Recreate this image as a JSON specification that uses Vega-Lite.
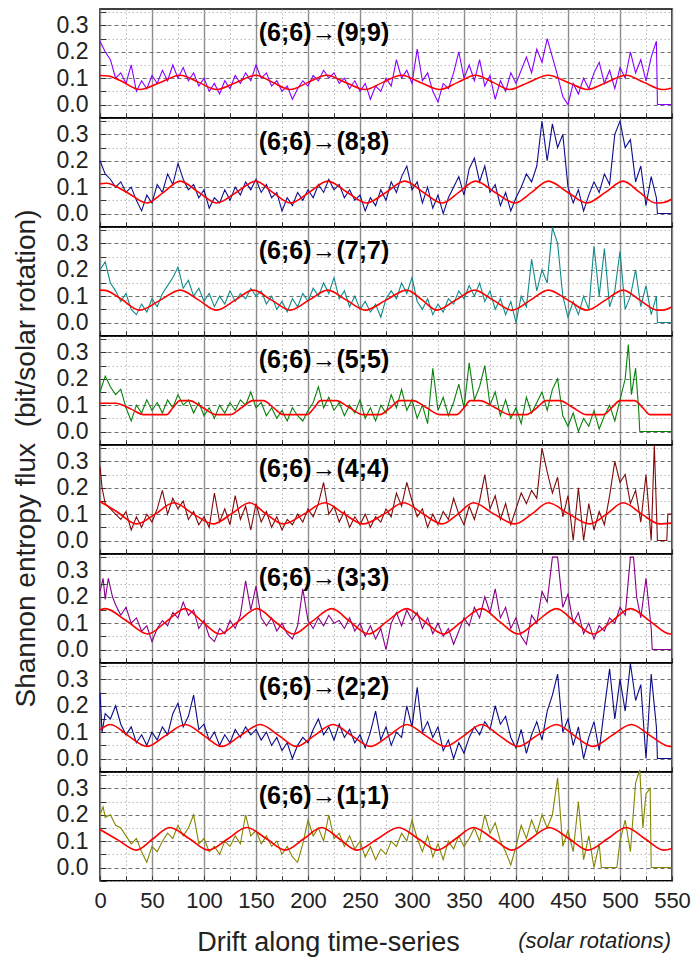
{
"$schema":"https://vega.github.io/schema/vega-lite/v6.json",
"background":"white",
"padding":{"left":11,"top":0,"right":2,"bottom":2},
"bounds":"flush",
"spacing":0,
"config":{"view":{"stroke":"#000","strokeWidth":1.5},"font":"Liberation Sans",
"axis":{"labelFont":"Liberation Sans","labelColor":"#222","tickColor":"#333","domain":false,"grid":true,"titleFont":"Liberation Sans","titleColor":"#222","titleFontWeight":"normal","labelOverlap":false},
"axisX":{"labelFontSize":22,"labelFlush":false,"labelPadding":15,"tickSize":-5},
"axisY":{"labelFontSize":23,"labelPadding":18,"tickSize":-6},
"title":{"font":"Liberation Sans","fontSize":25,"fontWeight":"bold","color":"#000","offset":-45,"anchor":"middle","frame":"group","dx":-62}},
"title":{"text":"(solar rotations)","orient":"bottom","anchor":"end","frame":"bounds","fontStyle":"italic","fontWeight":"normal","fontSize":22,"color":"#222","offset":-16,"dx":-20,"baseline":"middle"},
"data":{"values":[
{"s":1,"x":0,"y":0.24},{"s":1,"x":5,"y":0.2},{"s":1,"x":10,"y":0.17},{"s":1,"x":15,"y":0.1},{"s":1,"x":20,"y":0.12},{"s":1,"x":25,"y":0.08},{"s":1,"x":30,"y":0.15},{"s":1,"x":35,"y":0.05},{"s":1,"x":40,"y":0.09},{"s":1,"x":45,"y":0.06},{"s":1,"x":50,"y":0.11},{"s":1,"x":55,"y":0.08},{"s":1,"x":60,"y":0.13},{"s":1,"x":65,"y":0.09},{"s":1,"x":70,"y":0.15},{"s":1,"x":75,"y":0.1},{"s":1,"x":80,"y":0.14},{"s":1,"x":85,"y":0.09},{"s":1,"x":90,"y":0.12},{"s":1,"x":95,"y":0.07},{"s":1,"x":100,"y":0.1},{"s":1,"x":105,"y":0.05},{"s":1,"x":110,"y":0.08},{"s":1,"x":115,"y":0.04},{"s":1,"x":120,"y":0.09},{"s":1,"x":125,"y":0.06},{"s":1,"x":130,"y":0.11},{"s":1,"x":135,"y":0.08},{"s":1,"x":140,"y":0.12},{"s":1,"x":145,"y":0.09},{"s":1,"x":150,"y":0.15},{"s":1,"x":155,"y":0.1},{"s":1,"x":160,"y":0.12},{"s":1,"x":165,"y":0.07},{"s":1,"x":170,"y":0.09},{"s":1,"x":175,"y":0.05},{"s":1,"x":180,"y":0.07},{"s":1,"x":185,"y":0.02},{"s":1,"x":190,"y":0.06},{"s":1,"x":195,"y":0.09},{"s":1,"x":200,"y":0.07},{"s":1,"x":205,"y":0.11},{"s":1,"x":210,"y":0.09},{"s":1,"x":215,"y":0.13},{"s":1,"x":220,"y":0.1},{"s":1,"x":225,"y":0.12},{"s":1,"x":230,"y":0.08},{"s":1,"x":235,"y":0.1},{"s":1,"x":240,"y":0.06},{"s":1,"x":245,"y":0.09},{"s":1,"x":250,"y":0.05},{"s":1,"x":255,"y":0.08},{"s":1,"x":260,"y":0.02},{"s":1,"x":265,"y":0.07},{"s":1,"x":270,"y":0.05},{"s":1,"x":275,"y":0.1},{"s":1,"x":280,"y":0.07},{"s":1,"x":285,"y":0.17},{"s":1,"x":290,"y":0.1},{"s":1,"x":295,"y":0.13},{"s":1,"x":300,"y":0.08},{"s":1,"x":305,"y":0.21},{"s":1,"x":310,"y":0.09},{"s":1,"x":315,"y":0.12},{"s":1,"x":320,"y":0.05},{"s":1,"x":325,"y":0.01},{"s":1,"x":330,"y":0.08},{"s":1,"x":335,"y":0.06},{"s":1,"x":340,"y":0.12},{"s":1,"x":345,"y":0.2},{"s":1,"x":350,"y":0.1},{"s":1,"x":355,"y":0.15},{"s":1,"x":360,"y":0.09},{"s":1,"x":365,"y":0.17},{"s":1,"x":370,"y":0.07},{"s":1,"x":375,"y":0.11},{"s":1,"x":380,"y":0.02},{"s":1,"x":385,"y":0.09},{"s":1,"x":390,"y":0.05},{"s":1,"x":395,"y":0.12},{"s":1,"x":400,"y":0.08},{"s":1,"x":405,"y":0.13},{"s":1,"x":410,"y":0.18},{"s":1,"x":415,"y":0.12},{"s":1,"x":420,"y":0.21},{"s":1,"x":425,"y":0.16},{"s":1,"x":430,"y":0.25},{"s":1,"x":435,"y":0.18},{"s":1,"x":440,"y":0.11},{"s":1,"x":445,"y":0.03},{"s":1,"x":450,"y":0},{"s":1,"x":455,"y":0.08},{"s":1,"x":460,"y":0.04},{"s":1,"x":465,"y":0.1},{"s":1,"x":470,"y":0.06},{"s":1,"x":475,"y":0.12},{"s":1,"x":480,"y":0.16},{"s":1,"x":485,"y":0.08},{"s":1,"x":490,"y":0.13},{"s":1,"x":495,"y":0.06},{"s":1,"x":500,"y":0.14},{"s":1,"x":505,"y":0.1},{"s":1,"x":510,"y":0.2},{"s":1,"x":515,"y":0.12},{"s":1,"x":520,"y":0.17},{"s":1,"x":525,"y":0.09},{"s":1,"x":530,"y":0.18},{"s":1,"x":535,"y":0.24},{"s":1,"x":536,"y":0},{"s":1,"x":550,"y":0},
{"s":2,"x":0,"y":0.2},{"s":2,"x":5,"y":0.15},{"s":2,"x":10,"y":0.13},{"s":2,"x":15,"y":0.1},{"s":2,"x":20,"y":0.12},{"s":2,"x":25,"y":0.08},{"s":2,"x":30,"y":0.1},{"s":2,"x":35,"y":0.05},{"s":2,"x":40,"y":0.01},{"s":2,"x":45,"y":0.07},{"s":2,"x":50,"y":0.04},{"s":2,"x":55,"y":0.11},{"s":2,"x":60,"y":0.08},{"s":2,"x":65,"y":0.15},{"s":2,"x":70,"y":0.11},{"s":2,"x":75,"y":0.19},{"s":2,"x":80,"y":0.13},{"s":2,"x":85,"y":0.09},{"s":2,"x":90,"y":0.11},{"s":2,"x":95,"y":0.06},{"s":2,"x":100,"y":0.09},{"s":2,"x":105,"y":0.02},{"s":2,"x":110,"y":0.06},{"s":2,"x":115,"y":0.04},{"s":2,"x":120,"y":0.09},{"s":2,"x":125,"y":0.05},{"s":2,"x":130,"y":0.1},{"s":2,"x":135,"y":0.07},{"s":2,"x":140,"y":0.12},{"s":2,"x":145,"y":0.09},{"s":2,"x":150,"y":0.13},{"s":2,"x":155,"y":0.08},{"s":2,"x":160,"y":0.11},{"s":2,"x":165,"y":0.06},{"s":2,"x":170,"y":0.08},{"s":2,"x":175,"y":0.01},{"s":2,"x":180,"y":0.06},{"s":2,"x":185,"y":0.03},{"s":2,"x":190,"y":0.08},{"s":2,"x":195,"y":0.05},{"s":2,"x":200,"y":0.09},{"s":2,"x":205,"y":0.06},{"s":2,"x":210,"y":0.11},{"s":2,"x":215,"y":0.08},{"s":2,"x":220,"y":0.13},{"s":2,"x":225,"y":0.09},{"s":2,"x":230,"y":0.11},{"s":2,"x":235,"y":0.06},{"s":2,"x":240,"y":0.09},{"s":2,"x":245,"y":0.05},{"s":2,"x":250,"y":0.07},{"s":2,"x":255,"y":0.01},{"s":2,"x":260,"y":0.06},{"s":2,"x":265,"y":0.03},{"s":2,"x":270,"y":0.09},{"s":2,"x":275,"y":0.05},{"s":2,"x":280,"y":0.12},{"s":2,"x":285,"y":0.08},{"s":2,"x":290,"y":0.14},{"s":2,"x":295,"y":0.18},{"s":2,"x":300,"y":0.09},{"s":2,"x":305,"y":0.12},{"s":2,"x":310,"y":0.04},{"s":2,"x":315,"y":0.1},{"s":2,"x":320,"y":0.02},{"s":2,"x":325,"y":0.07},{"s":2,"x":330,"y":0},{"s":2,"x":335,"y":0.06},{"s":2,"x":340,"y":0.1},{"s":2,"x":345,"y":0.14},{"s":2,"x":350,"y":0.07},{"s":2,"x":355,"y":0.17},{"s":2,"x":360,"y":0.21},{"s":2,"x":365,"y":0.12},{"s":2,"x":370,"y":0.18},{"s":2,"x":375,"y":0.08},{"s":2,"x":380,"y":0.11},{"s":2,"x":385,"y":0.03},{"s":2,"x":390,"y":0.08},{"s":2,"x":395,"y":0.01},{"s":2,"x":400,"y":0.06},{"s":2,"x":405,"y":0.1},{"s":2,"x":410,"y":0.15},{"s":2,"x":415,"y":0.12},{"s":2,"x":420,"y":0.18},{"s":2,"x":425,"y":0.35},{"s":2,"x":430,"y":0.2},{"s":2,"x":435,"y":0.34},{"s":2,"x":440,"y":0.25},{"s":2,"x":445,"y":0.3},{"s":2,"x":450,"y":0.1},{"s":2,"x":455,"y":0.04},{"s":2,"x":460,"y":0.09},{"s":2,"x":465,"y":0.01},{"s":2,"x":470,"y":0.07},{"s":2,"x":475,"y":0.12},{"s":2,"x":480,"y":0.08},{"s":2,"x":485,"y":0.15},{"s":2,"x":490,"y":0.11},{"s":2,"x":495,"y":0.3},{"s":2,"x":500,"y":0.35},{"s":2,"x":505,"y":0.25},{"s":2,"x":510,"y":0.28},{"s":2,"x":515,"y":0.12},{"s":2,"x":520,"y":0.18},{"s":2,"x":525,"y":0.03},{"s":2,"x":530,"y":0.14},{"s":2,"x":535,"y":0.06},{"s":2,"x":536,"y":0},{"s":2,"x":550,"y":0},
{"s":3,"x":0,"y":0.2},{"s":3,"x":5,"y":0.23},{"s":3,"x":10,"y":0.15},{"s":3,"x":15,"y":0.12},{"s":3,"x":20,"y":0.08},{"s":3,"x":25,"y":0.11},{"s":3,"x":30,"y":0.05},{"s":3,"x":35,"y":0.03},{"s":3,"x":40,"y":0.07},{"s":3,"x":45,"y":0.04},{"s":3,"x":50,"y":0.09},{"s":3,"x":55,"y":0.06},{"s":3,"x":60,"y":0.11},{"s":3,"x":65,"y":0.14},{"s":3,"x":70,"y":0.17},{"s":3,"x":75,"y":0.21},{"s":3,"x":80,"y":0.13},{"s":3,"x":85,"y":0.16},{"s":3,"x":90,"y":0.1},{"s":3,"x":95,"y":0.13},{"s":3,"x":100,"y":0.08},{"s":3,"x":105,"y":0.11},{"s":3,"x":110,"y":0.06},{"s":3,"x":115,"y":0.1},{"s":3,"x":120,"y":0.07},{"s":3,"x":125,"y":0.12},{"s":3,"x":130,"y":0.08},{"s":3,"x":135,"y":0.11},{"s":3,"x":140,"y":0.09},{"s":3,"x":145,"y":0.13},{"s":3,"x":150,"y":0.1},{"s":3,"x":155,"y":0.12},{"s":3,"x":160,"y":0.07},{"s":3,"x":165,"y":0.1},{"s":3,"x":170,"y":0.05},{"s":3,"x":175,"y":0.08},{"s":3,"x":180,"y":0.04},{"s":3,"x":185,"y":0.09},{"s":3,"x":190,"y":0.06},{"s":3,"x":195,"y":0.11},{"s":3,"x":200,"y":0.08},{"s":3,"x":205,"y":0.13},{"s":3,"x":210,"y":0.1},{"s":3,"x":215,"y":0.15},{"s":3,"x":220,"y":0.11},{"s":3,"x":225,"y":0.17},{"s":3,"x":230,"y":0.09},{"s":3,"x":235,"y":0.12},{"s":3,"x":240,"y":0.06},{"s":3,"x":245,"y":0.1},{"s":3,"x":250,"y":0.05},{"s":3,"x":255,"y":0.08},{"s":3,"x":260,"y":0.04},{"s":3,"x":265,"y":0.07},{"s":3,"x":270,"y":0.02},{"s":3,"x":275,"y":0.09},{"s":3,"x":280,"y":0.12},{"s":3,"x":285,"y":0.09},{"s":3,"x":290,"y":0.15},{"s":3,"x":295,"y":0.11},{"s":3,"x":300,"y":0.17},{"s":3,"x":305,"y":0.08},{"s":3,"x":310,"y":0.05},{"s":3,"x":315,"y":0.09},{"s":3,"x":320,"y":0.03},{"s":3,"x":325,"y":0.07},{"s":3,"x":330,"y":0.04},{"s":3,"x":335,"y":0.09},{"s":3,"x":340,"y":0.07},{"s":3,"x":345,"y":0.12},{"s":3,"x":350,"y":0.09},{"s":3,"x":355,"y":0.14},{"s":3,"x":360,"y":0.1},{"s":3,"x":365,"y":0.15},{"s":3,"x":370,"y":0.08},{"s":3,"x":375,"y":0.12},{"s":3,"x":380,"y":0.05},{"s":3,"x":385,"y":0.09},{"s":3,"x":390,"y":0.03},{"s":3,"x":395,"y":0.08},{"s":3,"x":400,"y":0},{"s":3,"x":405,"y":0.1},{"s":3,"x":410,"y":0.06},{"s":3,"x":415,"y":0.24},{"s":3,"x":420,"y":0.12},{"s":3,"x":425,"y":0.2},{"s":3,"x":430,"y":0.15},{"s":3,"x":435,"y":0.36},{"s":3,"x":440,"y":0.3},{"s":3,"x":445,"y":0.1},{"s":3,"x":450,"y":0.02},{"s":3,"x":455,"y":0.08},{"s":3,"x":460,"y":0.03},{"s":3,"x":465,"y":0.1},{"s":3,"x":470,"y":0.05},{"s":3,"x":475,"y":0.29},{"s":3,"x":480,"y":0.1},{"s":3,"x":485,"y":0.28},{"s":3,"x":490,"y":0.06},{"s":3,"x":495,"y":0.12},{"s":3,"x":500,"y":0.27},{"s":3,"x":505,"y":0.05},{"s":3,"x":510,"y":0.1},{"s":3,"x":515,"y":0.2},{"s":3,"x":520,"y":0.06},{"s":3,"x":525,"y":0.14},{"s":3,"x":530,"y":0.03},{"s":3,"x":535,"y":0.1},{"s":3,"x":536,"y":0},{"s":3,"x":550,"y":0},
{"s":4,"x":0,"y":0.15},{"s":4,"x":5,"y":0.21},{"s":4,"x":10,"y":0.17},{"s":4,"x":15,"y":0.14},{"s":4,"x":20,"y":0.16},{"s":4,"x":25,"y":0.09},{"s":4,"x":30,"y":0.04},{"s":4,"x":35,"y":0.1},{"s":4,"x":40,"y":0.07},{"s":4,"x":45,"y":0.12},{"s":4,"x":50,"y":0.08},{"s":4,"x":55,"y":0.11},{"s":4,"x":60,"y":0.07},{"s":4,"x":65,"y":0.12},{"s":4,"x":70,"y":0.09},{"s":4,"x":75,"y":0.14},{"s":4,"x":80,"y":0.1},{"s":4,"x":85,"y":0.12},{"s":4,"x":90,"y":0.07},{"s":4,"x":95,"y":0.11},{"s":4,"x":100,"y":0.06},{"s":4,"x":105,"y":0.09},{"s":4,"x":110,"y":0.05},{"s":4,"x":115,"y":0.1},{"s":4,"x":120,"y":0.07},{"s":4,"x":125,"y":0.11},{"s":4,"x":130,"y":0.08},{"s":4,"x":135,"y":0.12},{"s":4,"x":140,"y":0.1},{"s":4,"x":145,"y":0.15},{"s":4,"x":150,"y":0.09},{"s":4,"x":155,"y":0.11},{"s":4,"x":160,"y":0.06},{"s":4,"x":165,"y":0.09},{"s":4,"x":170,"y":0.05},{"s":4,"x":175,"y":0.08},{"s":4,"x":180,"y":0.04},{"s":4,"x":185,"y":0.09},{"s":4,"x":190,"y":0.06},{"s":4,"x":195,"y":0.04},{"s":4,"x":200,"y":0.08},{"s":4,"x":205,"y":0.11},{"s":4,"x":210,"y":0.17},{"s":4,"x":215,"y":0.09},{"s":4,"x":220,"y":0.13},{"s":4,"x":225,"y":0.08},{"s":4,"x":230,"y":0.11},{"s":4,"x":235,"y":0.06},{"s":4,"x":240,"y":0.1},{"s":4,"x":245,"y":0.07},{"s":4,"x":250,"y":0.12},{"s":4,"x":255,"y":0.05},{"s":4,"x":260,"y":0.09},{"s":4,"x":265,"y":0.04},{"s":4,"x":270,"y":0.1},{"s":4,"x":275,"y":0.07},{"s":4,"x":280,"y":0.14},{"s":4,"x":285,"y":0.09},{"s":4,"x":290,"y":0.16},{"s":4,"x":295,"y":0.08},{"s":4,"x":300,"y":0.12},{"s":4,"x":305,"y":0.05},{"s":4,"x":310,"y":0.1},{"s":4,"x":315,"y":0.03},{"s":4,"x":320,"y":0.24},{"s":4,"x":325,"y":0.08},{"s":4,"x":330,"y":0.13},{"s":4,"x":335,"y":0.06},{"s":4,"x":340,"y":0.11},{"s":4,"x":345,"y":0.18},{"s":4,"x":350,"y":0.09},{"s":4,"x":355,"y":0.26},{"s":4,"x":360,"y":0.12},{"s":4,"x":365,"y":0.17},{"s":4,"x":370,"y":0.25},{"s":4,"x":375,"y":0.1},{"s":4,"x":380,"y":0.15},{"s":4,"x":385,"y":0.06},{"s":4,"x":390,"y":0.12},{"s":4,"x":395,"y":0.05},{"s":4,"x":400,"y":0.09},{"s":4,"x":405,"y":0.03},{"s":4,"x":410,"y":0.13},{"s":4,"x":415,"y":0.07},{"s":4,"x":420,"y":0.11},{"s":4,"x":425,"y":0.15},{"s":4,"x":430,"y":0.08},{"s":4,"x":435,"y":0.16},{"s":4,"x":440,"y":0.2},{"s":4,"x":445,"y":0.06},{"s":4,"x":450,"y":0.02},{"s":4,"x":455,"y":0.07},{"s":4,"x":460,"y":0},{"s":4,"x":465,"y":0.05},{"s":4,"x":470,"y":0.02},{"s":4,"x":475,"y":0.08},{"s":4,"x":480,"y":0.01},{"s":4,"x":485,"y":0.06},{"s":4,"x":490,"y":0.1},{"s":4,"x":495,"y":0.04},{"s":4,"x":500,"y":0.12},{"s":4,"x":505,"y":0.2},{"s":4,"x":508,"y":0.33},{"s":4,"x":511,"y":0.14},{"s":4,"x":515,"y":0.24},{"s":4,"x":518,"y":0.08},{"s":4,"x":519,"y":0},{"s":4,"x":550,"y":0},
{"s":5,"x":0,"y":0.28},{"s":5,"x":2,"y":0.2},{"s":5,"x":5,"y":0.14},{"s":5,"x":10,"y":0.12},{"s":5,"x":15,"y":0.1},{"s":5,"x":20,"y":0.08},{"s":5,"x":25,"y":0.11},{"s":5,"x":30,"y":0.04},{"s":5,"x":35,"y":0.09},{"s":5,"x":40,"y":0.05},{"s":5,"x":45,"y":0.1},{"s":5,"x":50,"y":0.07},{"s":5,"x":55,"y":0.12},{"s":5,"x":60,"y":0.19},{"s":5,"x":65,"y":0.1},{"s":5,"x":70,"y":0.16},{"s":5,"x":75,"y":0.12},{"s":5,"x":80,"y":0.15},{"s":5,"x":85,"y":0.08},{"s":5,"x":90,"y":0.11},{"s":5,"x":95,"y":0.06},{"s":5,"x":100,"y":0.09},{"s":5,"x":105,"y":0.05},{"s":5,"x":110,"y":0.18},{"s":5,"x":115,"y":0.07},{"s":5,"x":120,"y":0.12},{"s":5,"x":125,"y":0.06},{"s":5,"x":130,"y":0.17},{"s":5,"x":135,"y":0.08},{"s":5,"x":140,"y":0.13},{"s":5,"x":145,"y":0.04},{"s":5,"x":150,"y":0.14},{"s":5,"x":155,"y":0.07},{"s":5,"x":160,"y":0.11},{"s":5,"x":165,"y":0.05},{"s":5,"x":170,"y":0.09},{"s":5,"x":175,"y":0.04},{"s":5,"x":180,"y":0.08},{"s":5,"x":185,"y":0.06},{"s":5,"x":190,"y":0.1},{"s":5,"x":195,"y":0.07},{"s":5,"x":200,"y":0.12},{"s":5,"x":205,"y":0.09},{"s":5,"x":210,"y":0.14},{"s":5,"x":215,"y":0.22},{"s":5,"x":220,"y":0.1},{"s":5,"x":225,"y":0.13},{"s":5,"x":230,"y":0.07},{"s":5,"x":235,"y":0.11},{"s":5,"x":240,"y":0.05},{"s":5,"x":245,"y":0.09},{"s":5,"x":250,"y":0.06},{"s":5,"x":255,"y":0.1},{"s":5,"x":260,"y":0.05},{"s":5,"x":265,"y":0.09},{"s":5,"x":270,"y":0.07},{"s":5,"x":275,"y":0.12},{"s":5,"x":280,"y":0.09},{"s":5,"x":285,"y":0.18},{"s":5,"x":290,"y":0.13},{"s":5,"x":295,"y":0.22},{"s":5,"x":300,"y":0.15},{"s":5,"x":305,"y":0.09},{"s":5,"x":310,"y":0.12},{"s":5,"x":315,"y":0.05},{"s":5,"x":320,"y":0.1},{"s":5,"x":325,"y":0.06},{"s":5,"x":330,"y":0.11},{"s":5,"x":335,"y":0.08},{"s":5,"x":340,"y":0.16},{"s":5,"x":345,"y":0.1},{"s":5,"x":350,"y":0.06},{"s":5,"x":355,"y":0.13},{"s":5,"x":360,"y":0.08},{"s":5,"x":365,"y":0.15},{"s":5,"x":370,"y":0.25},{"s":5,"x":375,"y":0.12},{"s":5,"x":380,"y":0.17},{"s":5,"x":385,"y":0.08},{"s":5,"x":390,"y":0.14},{"s":5,"x":395,"y":0.06},{"s":5,"x":400,"y":0.12},{"s":5,"x":405,"y":0.18},{"s":5,"x":410,"y":0.14},{"s":5,"x":415,"y":0.19},{"s":5,"x":420,"y":0.16},{"s":5,"x":425,"y":0.35},{"s":5,"x":430,"y":0.26},{"s":5,"x":435,"y":0.18},{"s":5,"x":440,"y":0.24},{"s":5,"x":445,"y":0.09},{"s":5,"x":450,"y":0.17},{"s":5,"x":455,"y":0},{"s":5,"x":460,"y":0.2},{"s":5,"x":465,"y":0},{"s":5,"x":470,"y":0.14},{"s":5,"x":475,"y":0.04},{"s":5,"x":480,"y":0.11},{"s":5,"x":485,"y":0.06},{"s":5,"x":490,"y":0.17},{"s":5,"x":495,"y":0.3},{"s":5,"x":500,"y":0.22},{"s":5,"x":505,"y":0.25},{"s":5,"x":510,"y":0.14},{"s":5,"x":515,"y":0.19},{"s":5,"x":520,"y":0.07},{"s":5,"x":525,"y":0.25},{"s":5,"x":530,"y":0},{"s":5,"x":533,"y":0.36},{"s":5,"x":536,"y":0},{"s":5,"x":545,"y":0},{"s":5,"x":546,"y":0.1},{"s":5,"x":550,"y":0.1},
{"s":6,"x":0,"y":0.22},{"s":6,"x":3,"y":0.27},{"s":6,"x":5,"y":0.19},{"s":6,"x":8,"y":0.27},{"s":6,"x":12,"y":0.2},{"s":6,"x":15,"y":0.17},{"s":6,"x":20,"y":0.13},{"s":6,"x":25,"y":0.16},{"s":6,"x":30,"y":0.1},{"s":6,"x":35,"y":0.12},{"s":6,"x":40,"y":0.07},{"s":6,"x":45,"y":0.09},{"s":6,"x":50,"y":0.03},{"s":6,"x":55,"y":0.08},{"s":6,"x":60,"y":0.11},{"s":6,"x":65,"y":0.09},{"s":6,"x":70,"y":0.14},{"s":6,"x":75,"y":0.12},{"s":6,"x":80,"y":0.18},{"s":6,"x":85,"y":0.13},{"s":6,"x":90,"y":0.15},{"s":6,"x":95,"y":0.08},{"s":6,"x":100,"y":0.11},{"s":6,"x":105,"y":0.05},{"s":6,"x":110,"y":0.03},{"s":6,"x":115,"y":0.08},{"s":6,"x":120,"y":0.06},{"s":6,"x":125,"y":0.11},{"s":6,"x":130,"y":0.08},{"s":6,"x":135,"y":0.13},{"s":6,"x":140,"y":0.26},{"s":6,"x":145,"y":0.15},{"s":6,"x":150,"y":0.24},{"s":6,"x":155,"y":0.12},{"s":6,"x":160,"y":0.09},{"s":6,"x":165,"y":0.12},{"s":6,"x":170,"y":0.07},{"s":6,"x":175,"y":0.1},{"s":6,"x":180,"y":0.06},{"s":6,"x":185,"y":0.04},{"s":6,"x":190,"y":0.09},{"s":6,"x":195,"y":0.23},{"s":6,"x":200,"y":0.11},{"s":6,"x":205,"y":0.08},{"s":6,"x":210,"y":0.12},{"s":6,"x":215,"y":0.09},{"s":6,"x":220,"y":0.13},{"s":6,"x":225,"y":0.1},{"s":6,"x":230,"y":0.11},{"s":6,"x":235,"y":0.08},{"s":6,"x":240,"y":0.12},{"s":6,"x":245,"y":0.07},{"s":6,"x":250,"y":0.1},{"s":6,"x":255,"y":0.05},{"s":6,"x":260,"y":0.09},{"s":6,"x":265,"y":0.04},{"s":6,"x":270,"y":0.08},{"s":6,"x":275,"y":0},{"s":6,"x":280,"y":0.1},{"s":6,"x":285,"y":0.14},{"s":6,"x":290,"y":0.09},{"s":6,"x":295,"y":0.15},{"s":6,"x":300,"y":0.11},{"s":6,"x":305,"y":0.14},{"s":6,"x":310,"y":0.08},{"s":6,"x":315,"y":0.12},{"s":6,"x":320,"y":0.06},{"s":6,"x":325,"y":0.1},{"s":6,"x":330,"y":0.05},{"s":6,"x":335,"y":0.08},{"s":6,"x":340,"y":0.02},{"s":6,"x":345,"y":0.07},{"s":6,"x":350,"y":0.12},{"s":6,"x":355,"y":0.09},{"s":6,"x":360,"y":0.16},{"s":6,"x":365,"y":0.12},{"s":6,"x":370,"y":0.2},{"s":6,"x":375,"y":0.14},{"s":6,"x":380,"y":0.23},{"s":6,"x":385,"y":0.12},{"s":6,"x":390,"y":0.16},{"s":6,"x":395,"y":0.08},{"s":6,"x":400,"y":0.12},{"s":6,"x":405,"y":0.05},{"s":6,"x":410,"y":0.02},{"s":6,"x":415,"y":0.13},{"s":6,"x":420,"y":0.1},{"s":6,"x":425,"y":0.22},{"s":6,"x":430,"y":0.18},{"s":6,"x":435,"y":0.35},{"s":6,"x":440,"y":0.35},{"s":6,"x":445,"y":0.16},{"s":6,"x":450,"y":0.21},{"s":6,"x":455,"y":0.1},{"s":6,"x":460,"y":0.14},{"s":6,"x":465,"y":0.06},{"s":6,"x":470,"y":0.1},{"s":6,"x":475,"y":0.04},{"s":6,"x":480,"y":0.09},{"s":6,"x":485,"y":0.07},{"s":6,"x":490,"y":0.12},{"s":6,"x":495,"y":0.1},{"s":6,"x":500,"y":0.16},{"s":6,"x":505,"y":0.13},{"s":6,"x":510,"y":0.35},{"s":6,"x":513,"y":0.35},{"s":6,"x":516,"y":0.2},{"s":6,"x":520,"y":0.12},{"s":6,"x":525,"y":0.27},{"s":6,"x":530,"y":0.08},{"s":6,"x":531,"y":0},{"s":6,"x":550,"y":0},
{"s":7,"x":0,"y":0.25},{"s":7,"x":2,"y":0.1},{"s":7,"x":5,"y":0.17},{"s":7,"x":10,"y":0.15},{"s":7,"x":15,"y":0.2},{"s":7,"x":20,"y":0.13},{"s":7,"x":25,"y":0.09},{"s":7,"x":30,"y":0.12},{"s":7,"x":35,"y":0.06},{"s":7,"x":40,"y":0.09},{"s":7,"x":45,"y":0.05},{"s":7,"x":50,"y":0.1},{"s":7,"x":55,"y":0.07},{"s":7,"x":60,"y":0.12},{"s":7,"x":65,"y":0.09},{"s":7,"x":70,"y":0.17},{"s":7,"x":75,"y":0.21},{"s":7,"x":80,"y":0.12},{"s":7,"x":85,"y":0.16},{"s":7,"x":90,"y":0.24},{"s":7,"x":95,"y":0.11},{"s":7,"x":100,"y":0.13},{"s":7,"x":105,"y":0.07},{"s":7,"x":110,"y":0.1},{"s":7,"x":115,"y":0.05},{"s":7,"x":120,"y":0.09},{"s":7,"x":125,"y":0.06},{"s":7,"x":130,"y":0.11},{"s":7,"x":135,"y":0.08},{"s":7,"x":140,"y":0.12},{"s":7,"x":145,"y":0.09},{"s":7,"x":150,"y":0.11},{"s":7,"x":155,"y":0.07},{"s":7,"x":160,"y":0.1},{"s":7,"x":165,"y":0.05},{"s":7,"x":170,"y":0.08},{"s":7,"x":175,"y":0.03},{"s":7,"x":180,"y":0.06},{"s":7,"x":185,"y":0},{"s":7,"x":190,"y":0.05},{"s":7,"x":195,"y":0.08},{"s":7,"x":200,"y":0.06},{"s":7,"x":205,"y":0.11},{"s":7,"x":210,"y":0.15},{"s":7,"x":215,"y":0.09},{"s":7,"x":220,"y":0.12},{"s":7,"x":225,"y":0.07},{"s":7,"x":230,"y":0.13},{"s":7,"x":235,"y":0.08},{"s":7,"x":240,"y":0.11},{"s":7,"x":245,"y":0.06},{"s":7,"x":250,"y":0.09},{"s":7,"x":255,"y":0.04},{"s":7,"x":260,"y":0.1},{"s":7,"x":265,"y":0.18},{"s":7,"x":270,"y":0.07},{"s":7,"x":275,"y":0.12},{"s":7,"x":280,"y":0.05},{"s":7,"x":285,"y":0.1},{"s":7,"x":290,"y":0.08},{"s":7,"x":295,"y":0.2},{"s":7,"x":300,"y":0.12},{"s":7,"x":305,"y":0.27},{"s":7,"x":310,"y":0.1},{"s":7,"x":315,"y":0.14},{"s":7,"x":320,"y":0.08},{"s":7,"x":325,"y":0.12},{"s":7,"x":330,"y":0.03},{"s":7,"x":335,"y":0.07},{"s":7,"x":340,"y":0},{"s":7,"x":345,"y":0.06},{"s":7,"x":350,"y":0.02},{"s":7,"x":355,"y":0.08},{"s":7,"x":360,"y":0.12},{"s":7,"x":365,"y":0.09},{"s":7,"x":370,"y":0.14},{"s":7,"x":375,"y":0.11},{"s":7,"x":380,"y":0.2},{"s":7,"x":385,"y":0.13},{"s":7,"x":390,"y":0.16},{"s":7,"x":395,"y":0.08},{"s":7,"x":400,"y":0.04},{"s":7,"x":405,"y":0.11},{"s":7,"x":410,"y":0.02},{"s":7,"x":415,"y":0.09},{"s":7,"x":420,"y":0.14},{"s":7,"x":425,"y":0.07},{"s":7,"x":430,"y":0.18},{"s":7,"x":435,"y":0.24},{"s":7,"x":440,"y":0.32},{"s":7,"x":445,"y":0.1},{"s":7,"x":450,"y":0.15},{"s":7,"x":455,"y":0.05},{"s":7,"x":460,"y":0.12},{"s":7,"x":465,"y":0},{"s":7,"x":470,"y":0.08},{"s":7,"x":475,"y":0.14},{"s":7,"x":480,"y":0.03},{"s":7,"x":485,"y":0.19},{"s":7,"x":490,"y":0.34},{"s":7,"x":495,"y":0.15},{"s":7,"x":500,"y":0.3},{"s":7,"x":505,"y":0.18},{"s":7,"x":510,"y":0.36},{"s":7,"x":515,"y":0.22},{"s":7,"x":520,"y":0.28},{"s":7,"x":525,"y":0},{"s":7,"x":530,"y":0.32},{"s":7,"x":535,"y":0.12},{"s":7,"x":536,"y":0},{"s":7,"x":550,"y":0},
{"s":8,"x":0,"y":0.2},{"s":8,"x":3,"y":0.23},{"s":8,"x":5,"y":0.19},{"s":8,"x":10,"y":0.2},{"s":8,"x":15,"y":0.16},{"s":8,"x":20,"y":0.15},{"s":8,"x":25,"y":0.12},{"s":8,"x":30,"y":0.09},{"s":8,"x":35,"y":0.11},{"s":8,"x":40,"y":0.06},{"s":8,"x":45,"y":0.02},{"s":8,"x":50,"y":0.08},{"s":8,"x":55,"y":0.06},{"s":8,"x":60,"y":0.1},{"s":8,"x":65,"y":0.13},{"s":8,"x":70,"y":0.11},{"s":8,"x":75,"y":0.16},{"s":8,"x":80,"y":0.12},{"s":8,"x":85,"y":0.15},{"s":8,"x":90,"y":0.2},{"s":8,"x":95,"y":0.09},{"s":8,"x":100,"y":0.11},{"s":8,"x":105,"y":0.06},{"s":8,"x":110,"y":0.08},{"s":8,"x":115,"y":0.05},{"s":8,"x":120,"y":0.1},{"s":8,"x":125,"y":0.08},{"s":8,"x":130,"y":0.12},{"s":8,"x":135,"y":0.09},{"s":8,"x":140,"y":0.2},{"s":8,"x":145,"y":0.12},{"s":8,"x":150,"y":0.14},{"s":8,"x":155,"y":0.09},{"s":8,"x":160,"y":0.12},{"s":8,"x":165,"y":0.08},{"s":8,"x":170,"y":0.1},{"s":8,"x":175,"y":0.05},{"s":8,"x":180,"y":0.08},{"s":8,"x":185,"y":0.04},{"s":8,"x":190,"y":0.02},{"s":8,"x":195,"y":0.09},{"s":8,"x":200,"y":0.18},{"s":8,"x":205,"y":0.12},{"s":8,"x":210,"y":0.15},{"s":8,"x":215,"y":0.1},{"s":8,"x":220,"y":0.2},{"s":8,"x":225,"y":0.11},{"s":8,"x":230,"y":0.13},{"s":8,"x":235,"y":0.08},{"s":8,"x":240,"y":0.12},{"s":8,"x":245,"y":0.07},{"s":8,"x":250,"y":0.1},{"s":8,"x":255,"y":0.04},{"s":8,"x":260,"y":0.08},{"s":8,"x":265,"y":0.03},{"s":8,"x":270,"y":0.07},{"s":8,"x":275,"y":0.05},{"s":8,"x":280,"y":0.1},{"s":8,"x":285,"y":0.08},{"s":8,"x":290,"y":0.13},{"s":8,"x":295,"y":0.1},{"s":8,"x":300,"y":0.18},{"s":8,"x":305,"y":0.11},{"s":8,"x":310,"y":0.06},{"s":8,"x":315,"y":0.12},{"s":8,"x":320,"y":0.04},{"s":8,"x":325,"y":0.09},{"s":8,"x":330,"y":0.03},{"s":8,"x":335,"y":0.1},{"s":8,"x":340,"y":0.07},{"s":8,"x":345,"y":0.12},{"s":8,"x":350,"y":0.08},{"s":8,"x":355,"y":0.11},{"s":8,"x":360,"y":0.15},{"s":8,"x":365,"y":0.1},{"s":8,"x":370,"y":0.2},{"s":8,"x":375,"y":0.13},{"s":8,"x":380,"y":0.17},{"s":8,"x":385,"y":0.1},{"s":8,"x":390,"y":0.06},{"s":8,"x":395,"y":0.01},{"s":8,"x":400,"y":0.08},{"s":8,"x":405,"y":0.16},{"s":8,"x":410,"y":0.11},{"s":8,"x":415,"y":0.18},{"s":8,"x":420,"y":0.13},{"s":8,"x":425,"y":0.2},{"s":8,"x":430,"y":0.15},{"s":8,"x":435,"y":0.2},{"s":8,"x":440,"y":0.34},{"s":8,"x":445,"y":0.08},{"s":8,"x":450,"y":0.14},{"s":8,"x":455,"y":0.06},{"s":8,"x":460,"y":0.25},{"s":8,"x":465,"y":0.03},{"s":8,"x":470,"y":0.12},{"s":8,"x":475,"y":0},{"s":8,"x":480,"y":0.09},{"s":8,"x":482,"y":0},{"s":8,"x":497,"y":0},{"s":8,"x":500,"y":0.1},{"s":8,"x":505,"y":0.18},{"s":8,"x":510,"y":0.06},{"s":8,"x":515,"y":0.32},{"s":8,"x":519,"y":0.37},{"s":8,"x":522,"y":0.15},{"s":8,"x":525,"y":0.28},{"s":8,"x":529,"y":0.3},{"s":8,"x":530,"y":0},{"s":8,"x":550,"y":0},
{"s":1,"k":1,"x":0,"y":0.11},{"s":1,"k":1,"x":8,"y":0.108},{"s":1,"k":1,"x":20,"y":0.09},{"s":1,"k":1,"x":38,"y":0.057},{"s":1,"k":1,"x":58,"y":0.084},{"s":1,"k":1,"x":77,"y":0.111},{"s":1,"k":1,"x":95,"y":0.084},{"s":1,"k":1,"x":112,"y":0.057},{"s":1,"k":1,"x":131,"y":0.084},{"s":1,"k":1,"x":150,"y":0.111},{"s":1,"k":1,"x":166,"y":0.084},{"s":1,"k":1,"x":183,"y":0.057},{"s":1,"k":1,"x":200,"y":0.084},{"s":1,"k":1,"x":218,"y":0.111},{"s":1,"k":1,"x":236,"y":0.084},{"s":1,"k":1,"x":255,"y":0.057},{"s":1,"k":1,"x":272,"y":0.084},{"s":1,"k":1,"x":290,"y":0.111},{"s":1,"k":1,"x":308,"y":0.084},{"s":1,"k":1,"x":327,"y":0.057},{"s":1,"k":1,"x":344,"y":0.084},{"s":1,"k":1,"x":361,"y":0.111},{"s":1,"k":1,"x":378,"y":0.084},{"s":1,"k":1,"x":394,"y":0.057},{"s":1,"k":1,"x":412,"y":0.084},{"s":1,"k":1,"x":431,"y":0.111},{"s":1,"k":1,"x":450,"y":0.084},{"s":1,"k":1,"x":469,"y":0.057},{"s":1,"k":1,"x":487,"y":0.084},{"s":1,"k":1,"x":506,"y":0.111},{"s":1,"k":1,"x":523,"y":0.084},{"s":1,"k":1,"x":541,"y":0.057},{"s":1,"k":1,"x":550,"y":0.063},
{"s":2,"k":1,"x":0,"y":0.113},{"s":2,"k":1,"x":6,"y":0.115},{"s":2,"k":1,"x":26,"y":0.08},{"s":2,"k":1,"x":45,"y":0.04},{"s":2,"k":1,"x":61,"y":0.08},{"s":2,"k":1,"x":77,"y":0.123},{"s":2,"k":1,"x":95,"y":0.08},{"s":2,"k":1,"x":112,"y":0.04},{"s":2,"k":1,"x":131,"y":0.08},{"s":2,"k":1,"x":150,"y":0.123},{"s":2,"k":1,"x":166,"y":0.08},{"s":2,"k":1,"x":183,"y":0.04},{"s":2,"k":1,"x":201,"y":0.08},{"s":2,"k":1,"x":219,"y":0.123},{"s":2,"k":1,"x":238,"y":0.08},{"s":2,"k":1,"x":256,"y":0.04},{"s":2,"k":1,"x":275,"y":0.08},{"s":2,"k":1,"x":293,"y":0.123},{"s":2,"k":1,"x":311,"y":0.08},{"s":2,"k":1,"x":329,"y":0.04},{"s":2,"k":1,"x":345,"y":0.08},{"s":2,"k":1,"x":361,"y":0.123},{"s":2,"k":1,"x":380,"y":0.08},{"s":2,"k":1,"x":399,"y":0.04},{"s":2,"k":1,"x":415,"y":0.08},{"s":2,"k":1,"x":431,"y":0.123},{"s":2,"k":1,"x":450,"y":0.08},{"s":2,"k":1,"x":468,"y":0.04},{"s":2,"k":1,"x":486,"y":0.08},{"s":2,"k":1,"x":503,"y":0.123},{"s":2,"k":1,"x":519,"y":0.08},{"s":2,"k":1,"x":534,"y":0.04},{"s":2,"k":1,"x":542,"y":0.042},{"s":2,"k":1,"x":550,"y":0.055},
{"s":3,"k":1,"x":0,"y":0.123},{"s":3,"k":1,"x":5,"y":0.122},{"s":3,"k":1,"x":20,"y":0.09},{"s":3,"k":1,"x":38,"y":0.047},{"s":3,"k":1,"x":58,"y":0.085},{"s":3,"k":1,"x":77,"y":0.123},{"s":3,"k":1,"x":95,"y":0.085},{"s":3,"k":1,"x":112,"y":0.047},{"s":3,"k":1,"x":130,"y":0.085},{"s":3,"k":1,"x":147,"y":0.123},{"s":3,"k":1,"x":165,"y":0.085},{"s":3,"k":1,"x":183,"y":0.047},{"s":3,"k":1,"x":201,"y":0.085},{"s":3,"k":1,"x":219,"y":0.123},{"s":3,"k":1,"x":237,"y":0.085},{"s":3,"k":1,"x":255,"y":0.047},{"s":3,"k":1,"x":275,"y":0.085},{"s":3,"k":1,"x":295,"y":0.123},{"s":3,"k":1,"x":310,"y":0.085},{"s":3,"k":1,"x":324,"y":0.047},{"s":3,"k":1,"x":342,"y":0.085},{"s":3,"k":1,"x":360,"y":0.123},{"s":3,"k":1,"x":378,"y":0.085},{"s":3,"k":1,"x":396,"y":0.047},{"s":3,"k":1,"x":414,"y":0.085},{"s":3,"k":1,"x":431,"y":0.123},{"s":3,"k":1,"x":450,"y":0.085},{"s":3,"k":1,"x":468,"y":0.047},{"s":3,"k":1,"x":486,"y":0.085},{"s":3,"k":1,"x":503,"y":0.123},{"s":3,"k":1,"x":519,"y":0.085},{"s":3,"k":1,"x":536,"y":0.047},{"s":3,"k":1,"x":541,"y":0.047},{"s":3,"k":1,"x":550,"y":0.06},
{"s":4,"k":1,"x":0,"y":0.107},{"s":4,"k":1,"x":15,"y":0.107},{"s":4,"k":1,"x":30,"y":0.085},{"s":4,"k":1,"x":42,"y":0.064},{"s":4,"k":1,"x":64,"y":0.064},{"s":4,"k":1,"x":70,"y":0.09},{"s":4,"k":1,"x":77,"y":0.117},{"s":4,"k":1,"x":86,"y":0.117},{"s":4,"k":1,"x":99,"y":0.09},{"s":4,"k":1,"x":112,"y":0.064},{"s":4,"k":1,"x":125,"y":0.064},{"s":4,"k":1,"x":136,"y":0.09},{"s":4,"k":1,"x":147,"y":0.117},{"s":4,"k":1,"x":157,"y":0.117},{"s":4,"k":1,"x":167,"y":0.09},{"s":4,"k":1,"x":176,"y":0.064},{"s":4,"k":1,"x":199,"y":0.064},{"s":4,"k":1,"x":206,"y":0.09},{"s":4,"k":1,"x":212,"y":0.117},{"s":4,"k":1,"x":227,"y":0.117},{"s":4,"k":1,"x":240,"y":0.09},{"s":4,"k":1,"x":253,"y":0.064},{"s":4,"k":1,"x":269,"y":0.064},{"s":4,"k":1,"x":279,"y":0.09},{"s":4,"k":1,"x":288,"y":0.117},{"s":4,"k":1,"x":301,"y":0.117},{"s":4,"k":1,"x":314,"y":0.09},{"s":4,"k":1,"x":327,"y":0.064},{"s":4,"k":1,"x":343,"y":0.064},{"s":4,"k":1,"x":350,"y":0.09},{"s":4,"k":1,"x":356,"y":0.117},{"s":4,"k":1,"x":365,"y":0.117},{"s":4,"k":1,"x":380,"y":0.09},{"s":4,"k":1,"x":394,"y":0.064},{"s":4,"k":1,"x":410,"y":0.064},{"s":4,"k":1,"x":420,"y":0.09},{"s":4,"k":1,"x":429,"y":0.117},{"s":4,"k":1,"x":442,"y":0.117},{"s":4,"k":1,"x":455,"y":0.09},{"s":4,"k":1,"x":468,"y":0.064},{"s":4,"k":1,"x":484,"y":0.064},{"s":4,"k":1,"x":492,"y":0.09},{"s":4,"k":1,"x":500,"y":0.117},{"s":4,"k":1,"x":514,"y":0.117},{"s":4,"k":1,"x":522,"y":0.09},{"s":4,"k":1,"x":529,"y":0.064},{"s":4,"k":1,"x":550,"y":0.064},
{"s":5,"k":1,"x":0,"y":0.148},{"s":5,"k":1,"x":16,"y":0.11},{"s":5,"k":1,"x":35,"y":0.063},{"s":5,"k":1,"x":53,"y":0.1},{"s":5,"k":1,"x":71,"y":0.143},{"s":5,"k":1,"x":90,"y":0.1},{"s":5,"k":1,"x":109,"y":0.063},{"s":5,"k":1,"x":126,"y":0.1},{"s":5,"k":1,"x":144,"y":0.143},{"s":5,"k":1,"x":160,"y":0.1},{"s":5,"k":1,"x":176,"y":0.063},{"s":5,"k":1,"x":196,"y":0.1},{"s":5,"k":1,"x":216,"y":0.143},{"s":5,"k":1,"x":235,"y":0.1},{"s":5,"k":1,"x":253,"y":0.063},{"s":5,"k":1,"x":273,"y":0.1},{"s":5,"k":1,"x":292,"y":0.143},{"s":5,"k":1,"x":311,"y":0.1},{"s":5,"k":1,"x":329,"y":0.063},{"s":5,"k":1,"x":344,"y":0.1},{"s":5,"k":1,"x":359,"y":0.143},{"s":5,"k":1,"x":379,"y":0.1},{"s":5,"k":1,"x":399,"y":0.063},{"s":5,"k":1,"x":415,"y":0.1},{"s":5,"k":1,"x":431,"y":0.143},{"s":5,"k":1,"x":451,"y":0.1},{"s":5,"k":1,"x":471,"y":0.063},{"s":5,"k":1,"x":487,"y":0.1},{"s":5,"k":1,"x":503,"y":0.143},{"s":5,"k":1,"x":521,"y":0.1},{"s":5,"k":1,"x":538,"y":0.063},{"s":5,"k":1,"x":550,"y":0.066},
{"s":6,"k":1,"x":0,"y":0.15},{"s":6,"k":1,"x":5,"y":0.155},{"s":6,"k":1,"x":25,"y":0.11},{"s":6,"k":1,"x":46,"y":0.059},{"s":6,"k":1,"x":64,"y":0.107},{"s":6,"k":1,"x":82,"y":0.155},{"s":6,"k":1,"x":98,"y":0.107},{"s":6,"k":1,"x":115,"y":0.059},{"s":6,"k":1,"x":133,"y":0.107},{"s":6,"k":1,"x":151,"y":0.155},{"s":6,"k":1,"x":168,"y":0.107},{"s":6,"k":1,"x":186,"y":0.059},{"s":6,"k":1,"x":204,"y":0.107},{"s":6,"k":1,"x":223,"y":0.155},{"s":6,"k":1,"x":240,"y":0.107},{"s":6,"k":1,"x":258,"y":0.059},{"s":6,"k":1,"x":276,"y":0.107},{"s":6,"k":1,"x":295,"y":0.155},{"s":6,"k":1,"x":312,"y":0.107},{"s":6,"k":1,"x":330,"y":0.059},{"s":6,"k":1,"x":348,"y":0.107},{"s":6,"k":1,"x":367,"y":0.155},{"s":6,"k":1,"x":384,"y":0.107},{"s":6,"k":1,"x":402,"y":0.059},{"s":6,"k":1,"x":420,"y":0.107},{"s":6,"k":1,"x":439,"y":0.155},{"s":6,"k":1,"x":456,"y":0.107},{"s":6,"k":1,"x":474,"y":0.059},{"s":6,"k":1,"x":492,"y":0.107},{"s":6,"k":1,"x":510,"y":0.155},{"s":6,"k":1,"x":529,"y":0.107},{"s":6,"k":1,"x":548,"y":0.059},{"s":6,"k":1,"x":550,"y":0.059},
{"s":7,"k":1,"x":0,"y":0.109},{"s":7,"k":1,"x":10,"y":0.129},{"s":7,"k":1,"x":27,"y":0.087},{"s":7,"k":1,"x":45,"y":0.046},{"s":7,"k":1,"x":63,"y":0.087},{"s":7,"k":1,"x":82,"y":0.129},{"s":7,"k":1,"x":100,"y":0.087},{"s":7,"k":1,"x":117,"y":0.046},{"s":7,"k":1,"x":135,"y":0.087},{"s":7,"k":1,"x":154,"y":0.129},{"s":7,"k":1,"x":172,"y":0.087},{"s":7,"k":1,"x":189,"y":0.046},{"s":7,"k":1,"x":206,"y":0.087},{"s":7,"k":1,"x":224,"y":0.129},{"s":7,"k":1,"x":242,"y":0.087},{"s":7,"k":1,"x":260,"y":0.046},{"s":7,"k":1,"x":278,"y":0.087},{"s":7,"k":1,"x":295,"y":0.129},{"s":7,"k":1,"x":313,"y":0.087},{"s":7,"k":1,"x":332,"y":0.046},{"s":7,"k":1,"x":350,"y":0.087},{"s":7,"k":1,"x":367,"y":0.129},{"s":7,"k":1,"x":384,"y":0.087},{"s":7,"k":1,"x":402,"y":0.046},{"s":7,"k":1,"x":420,"y":0.087},{"s":7,"k":1,"x":439,"y":0.129},{"s":7,"k":1,"x":456,"y":0.087},{"s":7,"k":1,"x":474,"y":0.046},{"s":7,"k":1,"x":492,"y":0.087},{"s":7,"k":1,"x":511,"y":0.129},{"s":7,"k":1,"x":529,"y":0.087},{"s":7,"k":1,"x":548,"y":0.046},{"s":7,"k":1,"x":550,"y":0.046},
{"s":8,"k":1,"x":0,"y":0.144},{"s":8,"k":1,"x":17,"y":0.105},{"s":8,"k":1,"x":35,"y":0.066},{"s":8,"k":1,"x":51,"y":0.109},{"s":8,"k":1,"x":67,"y":0.152},{"s":8,"k":1,"x":86,"y":0.109},{"s":8,"k":1,"x":104,"y":0.066},{"s":8,"k":1,"x":123,"y":0.109},{"s":8,"k":1,"x":141,"y":0.152},{"s":8,"k":1,"x":160,"y":0.109},{"s":8,"k":1,"x":178,"y":0.066},{"s":8,"k":1,"x":196,"y":0.109},{"s":8,"k":1,"x":213,"y":0.152},{"s":8,"k":1,"x":230,"y":0.109},{"s":8,"k":1,"x":247,"y":0.066},{"s":8,"k":1,"x":267,"y":0.109},{"s":8,"k":1,"x":287,"y":0.152},{"s":8,"k":1,"x":306,"y":0.109},{"s":8,"k":1,"x":324,"y":0.066},{"s":8,"k":1,"x":342,"y":0.109},{"s":8,"k":1,"x":359,"y":0.152},{"s":8,"k":1,"x":378,"y":0.109},{"s":8,"k":1,"x":396,"y":0.066},{"s":8,"k":1,"x":414,"y":0.109},{"s":8,"k":1,"x":432,"y":0.152},{"s":8,"k":1,"x":451,"y":0.109},{"s":8,"k":1,"x":469,"y":0.066},{"s":8,"k":1,"x":488,"y":0.109},{"s":8,"k":1,"x":506,"y":0.152},{"s":8,"k":1,"x":524,"y":0.109},{"s":8,"k":1,"x":542,"y":0.066},{"s":8,"k":1,"x":550,"y":0.072}
]},
"vconcat":[
{"width":572,"height":108.75,"title":{"text":"(6;6)→(9;9)"},"transform":[{"filter":"datum.s==1"}],
"encoding":{"x":{"field":"x","type":"quantitative","scale":{"domain":[0,550],"nice":false,"zero":false},"axis":{"values":[0,25,50,75,100,125,150,175,200,225,250,275,300,325,350,375,400,425,450,475,500,525,550],"labels":false,"title":null,"gridColor":{"condition":{"test":"datum.value % 50 === 0","value":"#8c8c8c"},"value":"#b8b8b8"},"gridDash":{"condition":{"test":"datum.value % 50 === 0","value":[]},"value":[1.5,2.5]},"gridWidth":{"condition":{"test":"datum.value % 50 === 0","value":1.4},"value":1}}},
"y":{"field":"y","type":"quantitative","scale":{"domain":[-0.05,0.362],"nice":false,"zero":false},"axis":{"values":[-0.05,0,0.05,0.1,0.15,0.2,0.25,0.3,0.35],"labelExpr":"datum.value >= 0 && datum.value < 0.32 && abs(datum.value*10 - round(datum.value*10)) < 0.001 ? format(datum.value, '.1f') : ''","title":"Shannon entropy flux \u00a0(bit/solar rotation)","titleY":449,"titleFontSize":28,"titlePadding":16,"gridColor":{"condition":{"test":"abs(datum.value*10 - round(datum.value*10)) < 0.001","value":"#707070"},"value":"#b8b8b8"},"gridDash":{"condition":{"test":"abs(datum.value*10 - round(datum.value*10)) < 0.001","value":[4,3]},"value":[1.5,2.5]}}}},
"layer":[{"transform":[{"filter":"!datum.k"}],"mark":{"type":"line","color":"#8800ff","strokeWidth":1.1}},{"transform":[{"filter":"datum.k"}],"mark":{"type":"line","color":"#ff0000","strokeWidth":1.6,"interpolate":"monotone"}}]},
{"width":572,"height":108.75,"title":{"text":"(6;6)→(8;8)"},"transform":[{"filter":"datum.s==2"}],
"encoding":{"x":{"field":"x","type":"quantitative","scale":{"domain":[0,550],"nice":false,"zero":false},"axis":{"values":[0,25,50,75,100,125,150,175,200,225,250,275,300,325,350,375,400,425,450,475,500,525,550],"labels":false,"title":null,"gridColor":{"condition":{"test":"datum.value % 50 === 0","value":"#8c8c8c"},"value":"#b8b8b8"},"gridDash":{"condition":{"test":"datum.value % 50 === 0","value":[]},"value":[1.5,2.5]},"gridWidth":{"condition":{"test":"datum.value % 50 === 0","value":1.4},"value":1}}},
"y":{"field":"y","type":"quantitative","scale":{"domain":[-0.05,0.362],"nice":false,"zero":false},"axis":{"values":[-0.05,0,0.05,0.1,0.15,0.2,0.25,0.3,0.35],"labelExpr":"datum.value >= 0 && datum.value < 0.32 && abs(datum.value*10 - round(datum.value*10)) < 0.001 ? format(datum.value, '.1f') : ''","title":null,"gridColor":{"condition":{"test":"abs(datum.value*10 - round(datum.value*10)) < 0.001","value":"#707070"},"value":"#b8b8b8"},"gridDash":{"condition":{"test":"abs(datum.value*10 - round(datum.value*10)) < 0.001","value":[4,3]},"value":[1.5,2.5]}}}},
"layer":[{"transform":[{"filter":"!datum.k"}],"mark":{"type":"line","color":"#10108f","strokeWidth":1.1}},{"transform":[{"filter":"datum.k"}],"mark":{"type":"line","color":"#ff0000","strokeWidth":1.6,"interpolate":"monotone"}}]},
{"width":572,"height":108.75,"title":{"text":"(6;6)→(7;7)"},"transform":[{"filter":"datum.s==3"}],
"encoding":{"x":{"field":"x","type":"quantitative","scale":{"domain":[0,550],"nice":false,"zero":false},"axis":{"values":[0,25,50,75,100,125,150,175,200,225,250,275,300,325,350,375,400,425,450,475,500,525,550],"labels":false,"title":null,"gridColor":{"condition":{"test":"datum.value % 50 === 0","value":"#8c8c8c"},"value":"#b8b8b8"},"gridDash":{"condition":{"test":"datum.value % 50 === 0","value":[]},"value":[1.5,2.5]},"gridWidth":{"condition":{"test":"datum.value % 50 === 0","value":1.4},"value":1}}},
"y":{"field":"y","type":"quantitative","scale":{"domain":[-0.05,0.362],"nice":false,"zero":false},"axis":{"values":[-0.05,0,0.05,0.1,0.15,0.2,0.25,0.3,0.35],"labelExpr":"datum.value >= 0 && datum.value < 0.32 && abs(datum.value*10 - round(datum.value*10)) < 0.001 ? format(datum.value, '.1f') : ''","title":null,"gridColor":{"condition":{"test":"abs(datum.value*10 - round(datum.value*10)) < 0.001","value":"#707070"},"value":"#b8b8b8"},"gridDash":{"condition":{"test":"abs(datum.value*10 - round(datum.value*10)) < 0.001","value":[4,3]},"value":[1.5,2.5]}}}},
"layer":[{"transform":[{"filter":"!datum.k"}],"mark":{"type":"line","color":"#128a8a","strokeWidth":1.1}},{"transform":[{"filter":"datum.k"}],"mark":{"type":"line","color":"#ff0000","strokeWidth":1.6,"interpolate":"monotone"}}]},
{"width":572,"height":108.75,"title":{"text":"(6;6)→(5;5)"},"transform":[{"filter":"datum.s==4"}],
"encoding":{"x":{"field":"x","type":"quantitative","scale":{"domain":[0,550],"nice":false,"zero":false},"axis":{"values":[0,25,50,75,100,125,150,175,200,225,250,275,300,325,350,375,400,425,450,475,500,525,550],"labels":false,"title":null,"gridColor":{"condition":{"test":"datum.value % 50 === 0","value":"#8c8c8c"},"value":"#b8b8b8"},"gridDash":{"condition":{"test":"datum.value % 50 === 0","value":[]},"value":[1.5,2.5]},"gridWidth":{"condition":{"test":"datum.value % 50 === 0","value":1.4},"value":1}}},
"y":{"field":"y","type":"quantitative","scale":{"domain":[-0.05,0.362],"nice":false,"zero":false},"axis":{"values":[-0.05,0,0.05,0.1,0.15,0.2,0.25,0.3,0.35],"labelExpr":"datum.value >= 0 && datum.value < 0.32 && abs(datum.value*10 - round(datum.value*10)) < 0.001 ? format(datum.value, '.1f') : ''","title":null,"gridColor":{"condition":{"test":"abs(datum.value*10 - round(datum.value*10)) < 0.001","value":"#707070"},"value":"#b8b8b8"},"gridDash":{"condition":{"test":"abs(datum.value*10 - round(datum.value*10)) < 0.001","value":[4,3]},"value":[1.5,2.5]}}}},
"layer":[{"transform":[{"filter":"!datum.k"}],"mark":{"type":"line","color":"#0a800a","strokeWidth":1.1}},{"transform":[{"filter":"datum.k"}],"mark":{"type":"line","color":"#ff0000","strokeWidth":1.6,"interpolate":"monotone"}}]},
{"width":572,"height":108.75,"title":{"text":"(6;6)→(4;4)"},"transform":[{"filter":"datum.s==5"}],
"encoding":{"x":{"field":"x","type":"quantitative","scale":{"domain":[0,550],"nice":false,"zero":false},"axis":{"values":[0,25,50,75,100,125,150,175,200,225,250,275,300,325,350,375,400,425,450,475,500,525,550],"labels":false,"title":null,"gridColor":{"condition":{"test":"datum.value % 50 === 0","value":"#8c8c8c"},"value":"#b8b8b8"},"gridDash":{"condition":{"test":"datum.value % 50 === 0","value":[]},"value":[1.5,2.5]},"gridWidth":{"condition":{"test":"datum.value % 50 === 0","value":1.4},"value":1}}},
"y":{"field":"y","type":"quantitative","scale":{"domain":[-0.05,0.362],"nice":false,"zero":false},"axis":{"values":[-0.05,0,0.05,0.1,0.15,0.2,0.25,0.3,0.35],"labelExpr":"datum.value >= 0 && datum.value < 0.32 && abs(datum.value*10 - round(datum.value*10)) < 0.001 ? format(datum.value, '.1f') : ''","title":null,"gridColor":{"condition":{"test":"abs(datum.value*10 - round(datum.value*10)) < 0.001","value":"#707070"},"value":"#b8b8b8"},"gridDash":{"condition":{"test":"abs(datum.value*10 - round(datum.value*10)) < 0.001","value":[4,3]},"value":[1.5,2.5]}}}},
"layer":[{"transform":[{"filter":"!datum.k"}],"mark":{"type":"line","color":"#7f0a0a","strokeWidth":1.1}},{"transform":[{"filter":"datum.k"}],"mark":{"type":"line","color":"#ff0000","strokeWidth":1.6,"interpolate":"monotone"}}]},
{"width":572,"height":108.75,"title":{"text":"(6;6)→(3;3)"},"transform":[{"filter":"datum.s==6"}],
"encoding":{"x":{"field":"x","type":"quantitative","scale":{"domain":[0,550],"nice":false,"zero":false},"axis":{"values":[0,25,50,75,100,125,150,175,200,225,250,275,300,325,350,375,400,425,450,475,500,525,550],"labels":false,"title":null,"gridColor":{"condition":{"test":"datum.value % 50 === 0","value":"#8c8c8c"},"value":"#b8b8b8"},"gridDash":{"condition":{"test":"datum.value % 50 === 0","value":[]},"value":[1.5,2.5]},"gridWidth":{"condition":{"test":"datum.value % 50 === 0","value":1.4},"value":1}}},
"y":{"field":"y","type":"quantitative","scale":{"domain":[-0.05,0.362],"nice":false,"zero":false},"axis":{"values":[-0.05,0,0.05,0.1,0.15,0.2,0.25,0.3,0.35],"labelExpr":"datum.value >= 0 && datum.value < 0.32 && abs(datum.value*10 - round(datum.value*10)) < 0.001 ? format(datum.value, '.1f') : ''","title":null,"gridColor":{"condition":{"test":"abs(datum.value*10 - round(datum.value*10)) < 0.001","value":"#707070"},"value":"#b8b8b8"},"gridDash":{"condition":{"test":"abs(datum.value*10 - round(datum.value*10)) < 0.001","value":[4,3]},"value":[1.5,2.5]}}}},
"layer":[{"transform":[{"filter":"!datum.k"}],"mark":{"type":"line","color":"#880088","strokeWidth":1.1}},{"transform":[{"filter":"datum.k"}],"mark":{"type":"line","color":"#ff0000","strokeWidth":1.6,"interpolate":"monotone"}}]},
{"width":572,"height":108.75,"title":{"text":"(6;6)→(2;2)"},"transform":[{"filter":"datum.s==7"}],
"encoding":{"x":{"field":"x","type":"quantitative","scale":{"domain":[0,550],"nice":false,"zero":false},"axis":{"values":[0,25,50,75,100,125,150,175,200,225,250,275,300,325,350,375,400,425,450,475,500,525,550],"labels":false,"title":null,"gridColor":{"condition":{"test":"datum.value % 50 === 0","value":"#8c8c8c"},"value":"#b8b8b8"},"gridDash":{"condition":{"test":"datum.value % 50 === 0","value":[]},"value":[1.5,2.5]},"gridWidth":{"condition":{"test":"datum.value % 50 === 0","value":1.4},"value":1}}},
"y":{"field":"y","type":"quantitative","scale":{"domain":[-0.05,0.362],"nice":false,"zero":false},"axis":{"values":[-0.05,0,0.05,0.1,0.15,0.2,0.25,0.3,0.35],"labelExpr":"datum.value >= 0 && datum.value < 0.32 && abs(datum.value*10 - round(datum.value*10)) < 0.001 ? format(datum.value, '.1f') : ''","title":null,"gridColor":{"condition":{"test":"abs(datum.value*10 - round(datum.value*10)) < 0.001","value":"#707070"},"value":"#b8b8b8"},"gridDash":{"condition":{"test":"abs(datum.value*10 - round(datum.value*10)) < 0.001","value":[4,3]},"value":[1.5,2.5]}}}},
"layer":[{"transform":[{"filter":"!datum.k"}],"mark":{"type":"line","color":"#0c0c88","strokeWidth":1.1}},{"transform":[{"filter":"datum.k"}],"mark":{"type":"line","color":"#ff0000","strokeWidth":1.6,"interpolate":"monotone"}}]},
{"width":572,"height":108.75,"title":{"text":"(6;6)→(1;1)"},"transform":[{"filter":"datum.s==8"}],
"encoding":{"x":{"field":"x","type":"quantitative","scale":{"domain":[0,550],"nice":false,"zero":false},"axis":{"values":[0,25,50,75,100,125,150,175,200,225,250,275,300,325,350,375,400,425,450,475,500,525,550],"labelExpr":"datum.value % 50 === 0 ? datum.label : ''","title":"Drift along time-series","titleX":228,"titleFontSize":27,"titlePadding":18,"gridColor":{"condition":{"test":"datum.value % 50 === 0","value":"#8c8c8c"},"value":"#b8b8b8"},"gridDash":{"condition":{"test":"datum.value % 50 === 0","value":[]},"value":[1.5,2.5]},"gridWidth":{"condition":{"test":"datum.value % 50 === 0","value":1.4},"value":1}}},
"y":{"field":"y","type":"quantitative","scale":{"domain":[-0.05,0.362],"nice":false,"zero":false},"axis":{"values":[-0.05,0,0.05,0.1,0.15,0.2,0.25,0.3,0.35],"labelExpr":"datum.value >= 0 && datum.value < 0.32 && abs(datum.value*10 - round(datum.value*10)) < 0.001 ? format(datum.value, '.1f') : ''","title":null,"gridColor":{"condition":{"test":"abs(datum.value*10 - round(datum.value*10)) < 0.001","value":"#707070"},"value":"#b8b8b8"},"gridDash":{"condition":{"test":"abs(datum.value*10 - round(datum.value*10)) < 0.001","value":[4,3]},"value":[1.5,2.5]}}}},
"layer":[{"transform":[{"filter":"!datum.k"}],"mark":{"type":"line","color":"#858500","strokeWidth":1.1}},{"transform":[{"filter":"datum.k"}],"mark":{"type":"line","color":"#ff0000","strokeWidth":1.6,"interpolate":"monotone"}}]}
]
}
